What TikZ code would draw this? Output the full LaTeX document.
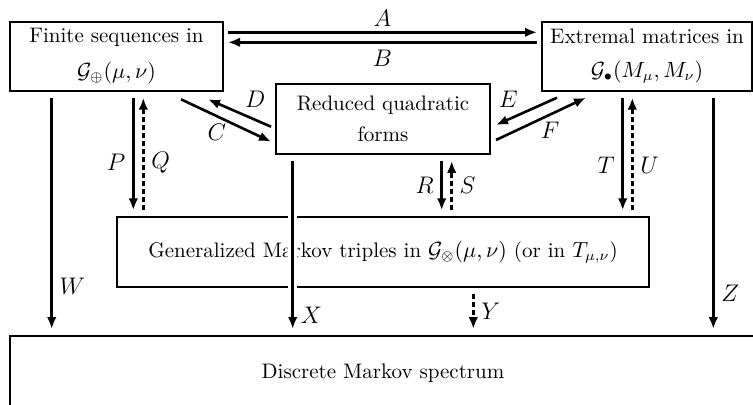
\documentclass[tikz,border=0pt]{standalone}
\usepackage{amsmath,amssymb}
\usetikzlibrary{arrows.meta,calc}

\begin{document}
\begin{tikzpicture}[x=0.5pt,y=-0.5pt,
    blk/.style={draw,line width=1pt,align=center,inner sep=2pt,font=\fontsize{10.5pt}{12.6pt}\selectfont},
    arr/.style={-{Latex[length=6pt,width=4.8pt]},line width=1.3pt},
    darr/.style={arr,dash pattern=on 2.5pt off 1.5pt},
    gap/.style={shorten <=3pt,shorten >=3pt},
    lbl/.style={font=\large}]
    \useasboundingbox (0,0) rectangle (753,405);
    \clip (0,0) rectangle (753,405);

    % boxes
    \node[blk,minimum width=106.5pt,minimum height=34.5pt] (fin) at (116.5,56.2)
        {Finite sequences in\\[5pt] $\mathcal{G}_\oplus(\mu,\nu)$};
    \node[blk,minimum width=105pt,minimum height=34.5pt] (ext) at (647,56.2)
        {Extremal matrices in\\[4pt] $\mathcal{G}_\bullet(M_\mu,M_\nu)$};
    \node[blk,minimum width=107pt,minimum height=35pt] (red) at (383,119)
        {Reduced quadratic\\[3pt] forms};
    \node[blk,minimum width=266.3pt,minimum height=35pt] (gen) at (383,252.3)
        {Generalized Markov triples in $\mathcal{G}_\otimes(\mu,\nu)$ (or in $T_{\mu,\nu}$)};
    \node[blk,minimum width=373pt,minimum height=37pt] (dis) at (383,373)
        {Discrete Markov spectrum};

    % heights and columns of the arrows
    \coordinate (yA) at (0,32.3);
    \coordinate (yB) at (0,42.3);
    \coordinate (xW) at (51.7,0);
    \coordinate (xP) at (133.3,0);
    \coordinate (xQ) at (143.3,0);
    \coordinate (xX) at (292.7,0);
    \coordinate (xR) at (441.7,0);
    \coordinate (xS) at (451.7,0);
    \coordinate (xY) at (473.3,0);
    \coordinate (xT) at (622.7,0);
    \coordinate (xU) at (632.3,0);
    \coordinate (xZ) at (713.3,0);

    % top pair
    \draw[arr,shorten <=2pt,shorten >=2pt] (fin.east |- yA) -- node[lbl,above=-1pt] (lA) {$A$} (ext.west |- yA);
    \draw[arr,shorten <=2pt,shorten >=2pt] (ext.west |- yB) -- node[lbl,below=0pt] (lB) {$B$} (fin.east |- yB);

    % diagonals
    \draw[arr] ($(fin.south east)+(-43,7.6)$) -- node[lbl,pos=0.4,below=0pt] (lC) {$C$} ($(red.west)+(-4,22.7)$);
    \draw[arr] ($(red.west)+(-4,7.7)$) -- node[lbl,pos=0.25,above=2pt] (lD) {$D$} ($(fin.south east)+(-16,7.6)$);
    \draw[arr] ($(ext.south west)+(16,6)$) -- node[lbl,pos=0.8,above=2pt] (lE) {$E$} ($(red.east)+(5,6)$);
    \draw[arr] ($(red.east)+(5,21)$) -- node[lbl,pos=0.6,below=0pt] (lF) {$F$} ($(ext.south west)+(45,6)$);

    % verticals
    \draw[arr,gap] (fin.south -| xW) -- node[lbl,pos=0.8,right] (lW) {$W$} (dis.north -| xW);
    \draw[arr,gap] (fin.south -| xP) -- node[lbl,pos=0.57,left] (lP) {$P$} (gen.north -| xP);
    \draw[darr,gap] (gen.north -| xQ) -- node[lbl,pos=0.43,right] (lQ) {$Q$} (fin.south -| xQ);
    \draw[arr,gap] (red.south -| xR) -- node[lbl,midway,left] (lR) {$R$} (gen.north -| xR);
    \draw[darr,gap] (gen.north -| xS) -- node[lbl,midway,right] (lS) {$S$} (red.south -| xS);
    \draw[arr,gap] (ext.south -| xT) -- node[lbl,pos=0.59,left] (lT) {$T$} (gen.north -| xT);
    \draw[darr,gap] (gen.north -| xU) -- node[lbl,pos=0.41,right] (lU) {$U$} (ext.south -| xU);
    \draw[arr,gap,preaction={draw=white,line width=4.6pt,arrows=-}] (red.south -| xX) -- node[lbl,pos=0.89,right] (lX) {$X$} (dis.north -| xX);
    \draw[darr,gap] (gen.south -| xY) -- node[lbl,midway,right] (lY) {$Y$} (dis.north -| xY);
    \draw[arr,gap] (ext.south -| xZ) -- node[lbl,pos=0.83,right] (lZ) {$Z$} (dis.north -| xZ);
\end{tikzpicture}
\end{document}
